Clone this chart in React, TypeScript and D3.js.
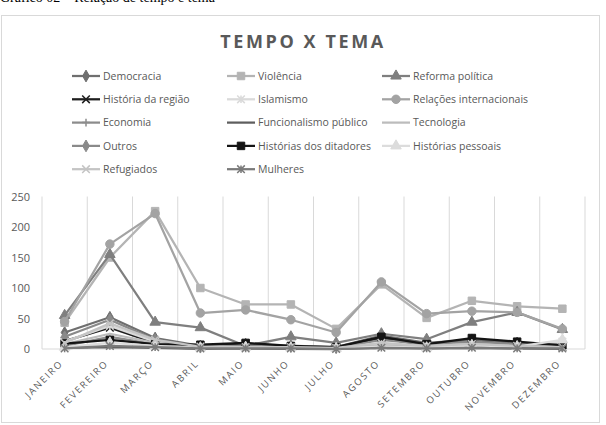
import React from 'react';
import * as d3 from 'd3';

const months = ['JANEIRO', 'FEVEREIRO', 'MARÇO', 'ABRIL', 'MAIO', 'JUNHO', 'JULHO', 'AGOSTO', 'SETEMBRO', 'OUTUBRO', 'NOVEMBRO', 'DEZEMBRO'];
const yTicks = [0, 50, 100, 150, 200, 250];

// values per month
const democracia = [27, 52, 18, 5, 8, 5, 3, 22, 10, 15, 10, 7];
const violencia = [43, 150, 226, 100, 73, 73, 33, 106, 51, 79, 70, 66];
const reformaPolitica = [55, 155, 44, 35, 5, 20, 10, 25, 16, 44, 60, 32];
const historiaRegiao = [13, 35, 10, 4, 8, 3, 2, 18, 6, 12, 7, 3];
const islamismo = [12, 38, 12, 3, 5, 3, 2, 8, 5, 10, 5, 12];
const relacoesInt = [45, 172, 222, 59, 64, 48, 27, 110, 58, 62, 60, 33];
const economia = [5, 20, 8, 2, 3, 2, 1, 5, 3, 5, 3, 2];
const funcionalismo = [2, 3, 2, 0, 1, 0, 0, 2, 1, 2, 1, 0];
const tecnologia = [8, 25, 10, 3, 4, 6, 2, 6, 4, 8, 6, 4];
const outros = [20, 48, 15, 3, 6, 4, 2, 15, 8, 12, 8, 5];
const ditadores = [9, 15, 8, 7, 10, 5, 3, 20, 8, 18, 12, 6];
const historiasPessoais = [3, 10, 5, 2, 3, 2, 1, 4, 2, 6, 4, 15];
const refugiados = [10, 42, 15, 4, 3, 3, 2, 10, 5, 8, 5, 3];
const mulheres = [1, 5, 3, 1, 1, 1, 0, 2, 1, 2, 1, 1];

type Marker = 'diamond' | 'square' | 'triangle' | 'x' | 'star' | 'circle' | 'plus' | 'none';

const series: { name: string; values: number[]; color: string; marker: Marker }[] = [
  { name: 'Democracia', values: democracia, color: '#6f6f6f', marker: 'diamond' },
  { name: 'Violência', values: violencia, color: '#b4b4b4', marker: 'square' },
  { name: 'Reforma política', values: reformaPolitica, color: '#7f7f7f', marker: 'triangle' },
  { name: 'História da região', values: historiaRegiao, color: '#1e1e1e', marker: 'x' },
  { name: 'Islamismo', values: islamismo, color: '#dadada', marker: 'star' },
  { name: 'Relações internacionais', values: relacoesInt, color: '#a3a3a3', marker: 'circle' },
  { name: 'Economia', values: economia, color: '#8c8c8c', marker: 'plus' },
  { name: 'Funcionalismo público', values: funcionalismo, color: '#5e5e5e', marker: 'none' },
  { name: 'Tecnologia', values: tecnologia, color: '#bcbcbc', marker: 'none' },
  { name: 'Outros', values: outros, color: '#8a8a8a', marker: 'diamond' },
  { name: 'Histórias dos ditadores', values: ditadores, color: '#141414', marker: 'square' },
  { name: 'Histórias pessoais', values: historiasPessoais, color: '#dcdcdc', marker: 'triangle' },
  { name: 'Refugiados', values: refugiados, color: '#c4c4c4', marker: 'x' },
  { name: 'Mulheres', values: mulheres, color: '#7a7a7a', marker: 'star' },
];

const FONT = '"Open Sans", "Noto Sans", sans-serif';
const TEXT = '#595959';

const MarkerShape = ({ type, x, y, color }: { type: Marker; x: number; y: number; color: string }) => {
  const r = 3.8;
  if (type === 'none') return null;
  if (type === 'x' || type === 'star' || type === 'plus') {
    let d = '';
    if (type === 'x' || type === 'star') d += `M${-r},${-r}L${r},${r}M${-r},${r}L${r},${-r}`;
    if (type === 'star') d += `M0,${-r}L0,${r}`;
    if (type === 'plus') d += `M${-r},0L${r},0M0,${-r}L0,${r}`;
    return <path d={d} transform={`translate(${x},${y})`} stroke={color} strokeWidth={1.5} fill="none" />;
  }
  const sym = {
    diamond: d3.symbol(d3.symbolDiamond, 40),
    square: d3.symbol(d3.symbolSquare, 56),
    triangle: d3.symbol(d3.symbolTriangle, 48),
    circle: d3.symbol(d3.symbolCircle, 56),
  }[type];
  return <path d={sym!() as string} transform={`translate(${x},${y})`} fill={color} stroke={color} strokeWidth={1} />;
};

export default function App() {
  const W = 606;
  const H = 425;
  const left = 42;
  const right = 585;
  const top = 196.5;
  const bottom = 349;

  const x = d3.scaleBand<string>().domain(months).range([left, right]);
  const y = d3.scaleLinear().domain([0, 250]).range([bottom, top]);
  const cx = (m: string) => (x(m) as number) + x.bandwidth() / 2;

  const line = d3
    .line<number>()
    .x((_, i) => cx(months[i]))
    .y((v) => y(v));

  const legendCols = [72, 227, 382];
  const legendRow0 = 76;
  const legendStep = 23.3;

  return (
    <svg width={W} height={H} style={{ position: 'absolute', left: 0, top: 0, background: '#fff' }}>
      <text x={0} y={2} fontFamily='"Liberation Serif", "Times New Roman", serif' fontSize={14} fill="#000">
        Gráfico 02 – Relação de tempo e tema
      </text>
      <rect x={1.5} y={15.5} width={598} height={407} fill="#fff" stroke="#d9d9d9" />
      <text
        x={303}
        y={48}
        textAnchor="middle"
        fontFamily={FONT}
        fontWeight="bold"
        fontSize={18}
        letterSpacing={2.6}
        fill={TEXT}
      >
        TEMPO X TEMA
      </text>

      {/* legend */}
      {series.map((s, i) => {
        const lx = legendCols[i % 3];
        const ly = legendRow0 + Math.floor(i / 3) * legendStep;
        return (
          <g key={s.name}>
            <line x1={lx} x2={lx + 28} y1={ly} y2={ly} stroke={s.color} strokeWidth={2.25} />
            <MarkerShape type={s.marker} x={lx + 14} y={ly} color={s.color} />
            <text x={lx + 31} y={ly + 3.8} fontFamily={FONT} fontSize={10.5} fill={TEXT}>
              {s.name}
            </text>
          </g>
        );
      })}

      {/* vertical gridlines */}
      {d3.range(months.length + 1).map((i) => {
        const gx = left + i * x.bandwidth();
        return <line key={i} x1={gx} x2={gx} y1={top} y2={bottom} stroke="#d9d9d9" strokeWidth={1} />;
      })}
      <line x1={left} x2={right} y1={bottom} y2={bottom} stroke="#d9d9d9" strokeWidth={1} />

      {/* y ticks */}
      {yTicks.map((t) => (
        <text key={t} x={30} y={y(t) + 4} textAnchor="end" fontFamily={FONT} fontSize={11} fill={TEXT}>
          {t}
        </text>
      ))}

      {/* x labels */}
      {months.map((m) => (
        <text
          key={m}
          transform={`translate(${cx(m) - 1},${bottom + 15}) rotate(-45)`}
          textAnchor="end"
          fontFamily={FONT}
          fontSize={9.5}
          letterSpacing={1.7}
          fill={TEXT}
        >
          {m}
        </text>
      ))}

      {/* series */}
      {series.map((s) => (
        <g key={s.name}>
          <path d={line(s.values) as string} fill="none" stroke={s.color} strokeWidth={2.25} strokeLinejoin="round" />
          {s.values.map((v, i) => (
            <MarkerShape key={i} type={s.marker} x={cx(months[i])} y={y(v)} color={s.color} />
          ))}
        </g>
      ))}
    </svg>
  );
}
